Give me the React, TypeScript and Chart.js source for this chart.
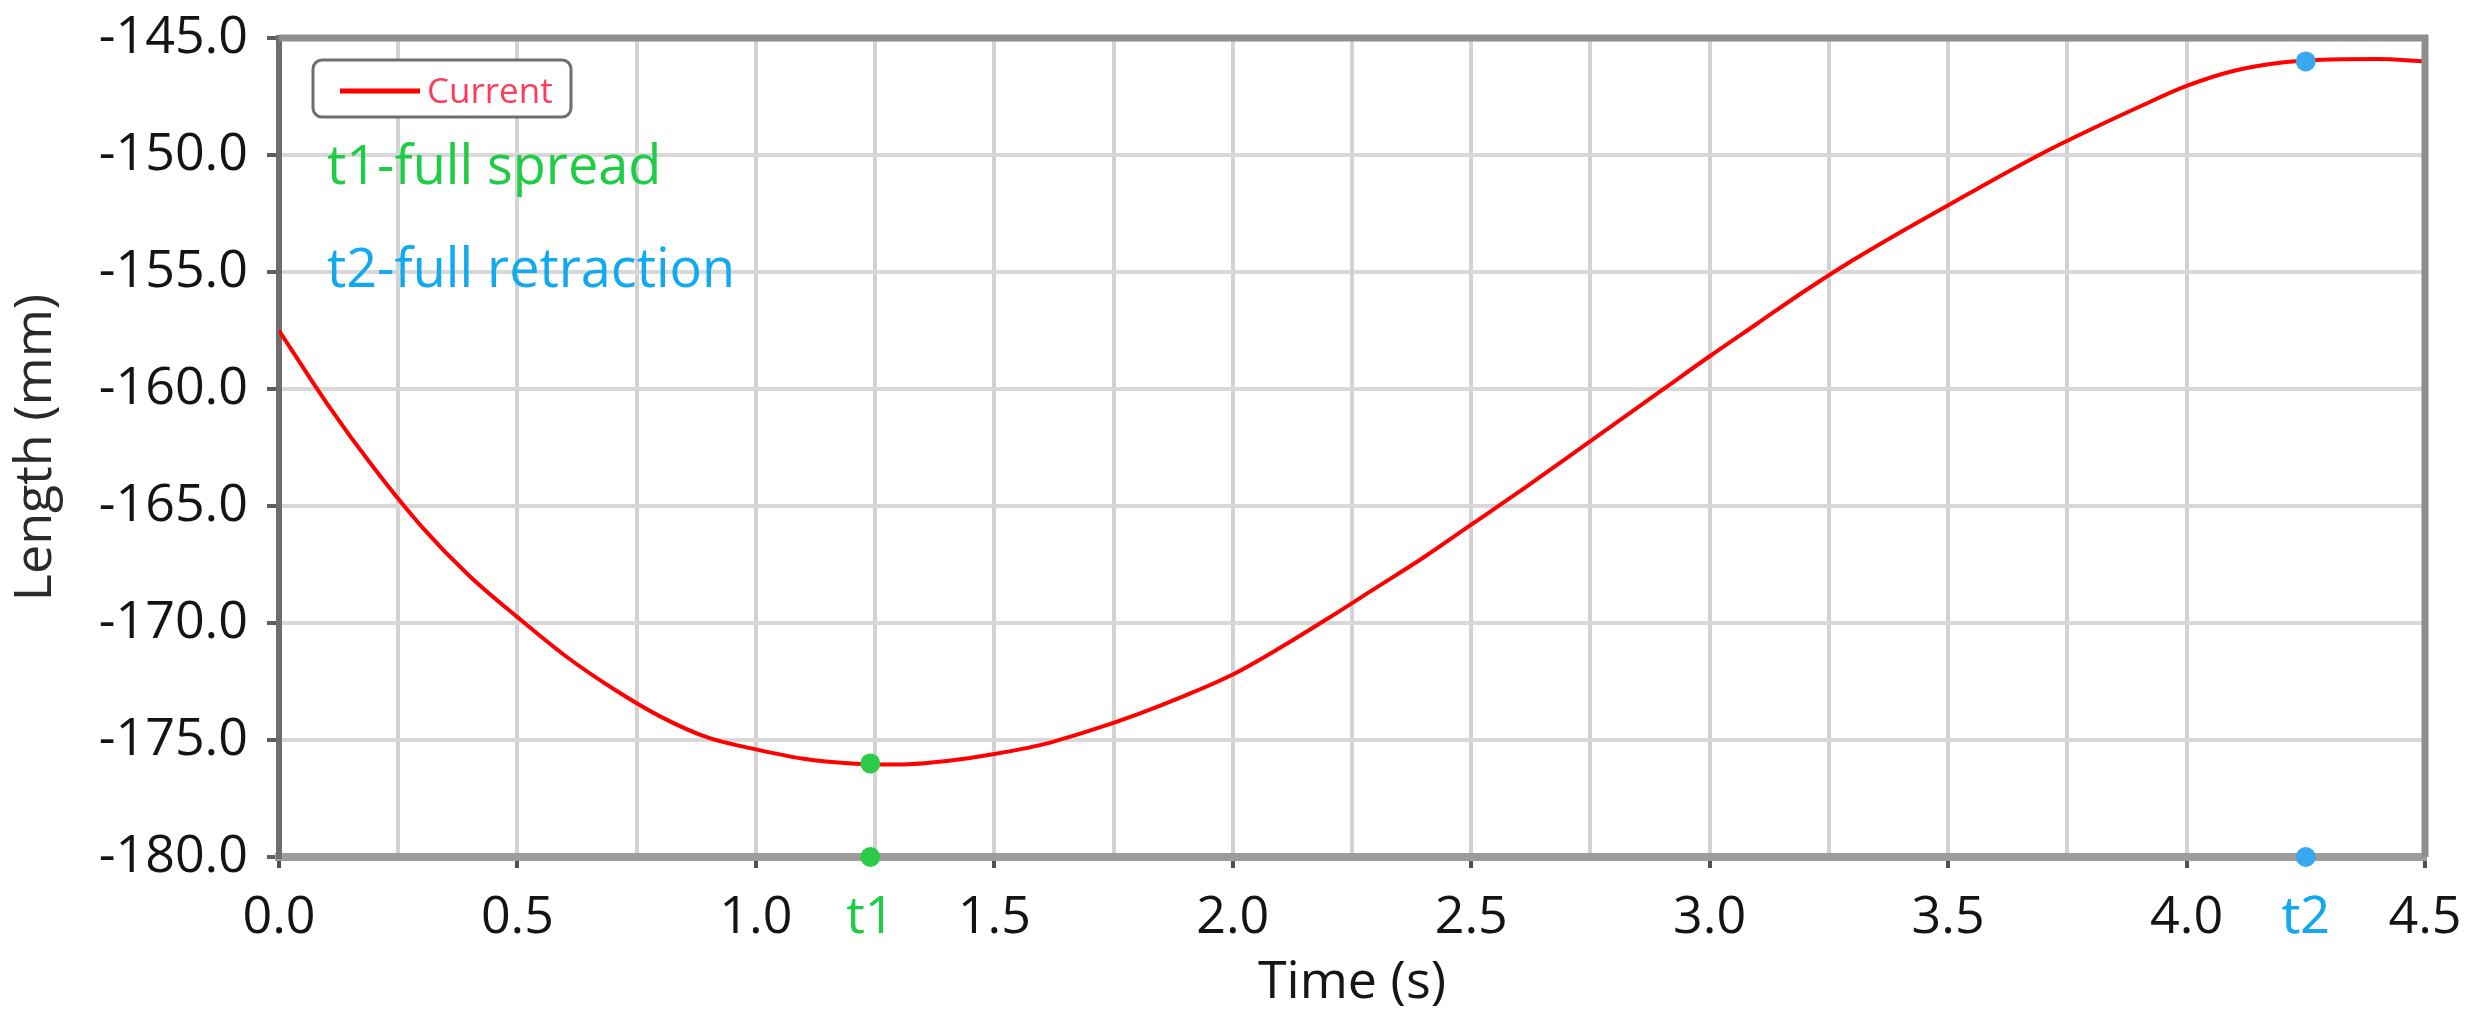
import React, { useEffect, useRef } from 'react';
import { Chart, registerables } from 'chart.js';

Chart.register(...registerables);

// ---- data ----
const TIME_S = [
  0.0, 0.1, 0.2, 0.3, 0.4, 0.5, 0.6, 0.7, 0.8, 0.9,
  1.0, 1.1, 1.2, 1.3, 1.4, 1.5, 1.6, 1.7, 1.8, 1.9,
  2.0, 2.1, 2.2, 2.3, 2.4, 2.5, 2.6, 2.7, 2.8, 2.9,
  3.0, 3.1, 3.2, 3.3, 3.4, 3.5, 3.6, 3.7, 3.8, 3.9,
  4.0, 4.1, 4.2, 4.3, 4.4, 4.5,
];
const LENGTH_MM = [
  -157.5, -160.6, -163.4, -165.9, -168.0, -169.75, -171.4, -172.8, -174.0, -174.9,
  -175.4, -175.8, -176.0, -176.05, -175.9, -175.6, -175.2, -174.6, -173.9, -173.1,
  -172.2, -171.05, -169.8, -168.5, -167.2, -165.8, -164.4, -162.95, -161.5, -160.05,
  -158.6, -157.2, -155.8, -154.5, -153.3, -152.15, -151.0, -149.9, -148.9, -147.95,
  -147.05, -146.4, -146.05, -145.92, -145.9, -146.0,
];
const SERIES_LABEL = 'Current';

const T1_TIME = 1.24;
const T1_LENGTH = -176.0;
const T2_TIME = 4.25;
const T2_LENGTH = -146.0;
const T1_TICK_LABEL = 't1';
const T2_TICK_LABEL = 't2';
const T1_NOTE = 't1-full spread';
const T2_NOTE = 't2-full retraction';

const X_TICKS = [
  0, 0.25, 0.5, 0.75, 1.0, 1.25, 1.5, 1.75, 2.0, 2.25,
  2.5, 2.75, 3.0, 3.25, 3.5, 3.75, 4.0, 4.25, 4.5,
];
const Y_MIN = -180;
const Y_MAX = -145;
const Y_STEP = 2.5;
const X_TITLE = 'Time (s)';
const Y_TITLE = 'Length (mm)';

// ---- styling ----
const RED = '#ff0000';
const GREEN = '#2ccc48';
const GREEN_TEXT = '#1fcc46';
const BLUE = '#38a8f0';
const BLUE_TEXT = '#12a9ee';
const FONT = "'Open Sans', sans-serif";

const isHalf = (v: number) => Math.abs(v * 2 - Math.round(v * 2)) < 1e-9;
const isT1 = (v: number) => Math.abs(v - T1_TIME) < 1e-9;
const isT2 = (v: number) => Math.abs(v - T2_TIME) < 1e-9;

const overlayPlugin = {
  id: 'overlay',
  afterDraw(chart: any) {
    const { ctx, chartArea: a } = chart;
    ctx.save();
    // top and right frame
    ctx.strokeStyle = '#8e8e8e';
    ctx.lineWidth = 7;
    ctx.beginPath();
    ctx.moveTo(a.left, a.top);
    ctx.lineTo(a.right, a.top);
    ctx.lineTo(a.right, a.bottom);
    ctx.stroke();

    // legend box
    const ds = chart.data.datasets[2];
    const bx = a.left + 34;
    const by = a.top + 22;
    ctx.fillStyle = '#ffffff';
    ctx.strokeStyle = '#6e6e6e';
    ctx.lineWidth = 3;
    ctx.beginPath();
    (ctx as any).roundRect(bx, by, 258, 57, 9);
    ctx.fill();
    ctx.stroke();
    ctx.strokeStyle = ds.borderColor;
    ctx.lineWidth = 5;
    ctx.beginPath();
    ctx.moveTo(a.left + 61, a.top + 53);
    ctx.lineTo(a.left + 141, a.top + 53);
    ctx.stroke();
    ctx.fillStyle = '#ff3b5c';
    ctx.font = `35px ${FONT}`;
    ctx.textAlign = 'left';
    ctx.textBaseline = 'alphabetic';
    ctx.fillText(ds.label, a.left + 148, a.top + 65);

    // notes
    ctx.font = `54px ${FONT}`;
    ctx.fillStyle = GREEN_TEXT;
    ctx.fillText(T1_NOTE, a.left + 48, a.top + 146);
    ctx.fillStyle = BLUE_TEXT;
    ctx.fillText(T2_NOTE, a.left + 48, a.top + 249);
    ctx.restore();
  },
};

export default function App() {
  const canvasRef = useRef<HTMLCanvasElement | null>(null);

  useEffect(() => {
    if (!canvasRef.current) return;
    Chart.defaults.font.family = FONT;
    const lineData = TIME_S.map((t, i) => ({ x: t, y: LENGTH_MM[i] }));

    const chart = new Chart(canvasRef.current, {
      type: 'line',
      data: {
        datasets: [
          {
            label: 't1',
            data: [
              { x: T1_TIME, y: T1_LENGTH },
              { x: T1_TIME, y: Y_MIN },
            ],
            showLine: false,
            pointRadius: 10,
            pointBackgroundColor: GREEN,
            pointBorderWidth: 0,
            clip: false,
            order: 1,
          } as any,
          {
            label: 't2',
            data: [
              { x: T2_TIME, y: T2_LENGTH },
              { x: T2_TIME, y: Y_MIN },
            ],
            showLine: false,
            pointRadius: 10,
            pointBackgroundColor: BLUE,
            pointBorderWidth: 0,
            clip: false,
            order: 1,
          } as any,
          {
            label: SERIES_LABEL,
            data: lineData,
            borderColor: RED,
            borderWidth: 4,
            pointRadius: 0,
            tension: 0.4,
            cubicInterpolationMode: 'monotone',
            fill: false,
            order: 2,
          } as any,
        ],
      },
      options: {
        animation: false,
        responsive: false,
        maintainAspectRatio: false,
        layout: { padding: { left: 0, top: 38, right: 40, bottom: 0 } },
        plugins: {
          legend: { display: false },
          tooltip: { enabled: false },
        },
        scales: {
          x: {
            type: 'linear',
            min: 0,
            max: 4.5,
            afterBuildTicks: (s: any) => {
              s.ticks = X_TICKS.concat([T1_TIME, T2_TIME])
                .sort((p, q) => p - q)
                .map((v) => ({ value: v }));
            },
            afterFit: (s: any) => {
              s.height = 168;
              s.paddingLeft = 0;
              s.paddingRight = 0;
              s.paddingTop = 0;
              s.paddingBottom = 0;
            },
            ticks: {
              autoSkip: false,
              maxRotation: 0,
              minRotation: 0,
              padding: 19,
              font: { size: 52 },
              color: (c: any) => {
                const v = c.tick?.value;
                if (isT1(v)) return GREEN_TEXT;
                if (isT2(v)) return BLUE_TEXT;
                return '#141414';
              },
              callback: (v: any) => {
                const n = Number(v);
                if (isT1(n)) return T1_TICK_LABEL;
                if (isT2(n)) return T2_TICK_LABEL;
                return isHalf(n) ? n.toFixed(1) : '';
              },
            },
            grid: {
              color: (c: any) => {
                const v = c.tick?.value;
                return isT1(v) || isT2(v) ? 'rgba(0,0,0,0)' : '#d2d2d2';
              },
              lineWidth: 4,
              drawTicks: true,
              tickLength: 11,
              tickWidth: 4,
              tickColor: (c: any) => {
                const v = c.tick?.value;
                if (isT1(v) || isT2(v)) return 'rgba(0,0,0,0)';
                return isHalf(v) ? '#505050' : 'rgba(0,0,0,0)';
              },
            },
            border: { color: '#9c9c9c', width: 8 },
            title: {
              display: true,
              text: X_TITLE,
              color: '#161616',
              font: { size: 52 },
              padding: { top: 0, bottom: 11 },
            },
          },
          y: {
            min: Y_MIN,
            max: Y_MAX,
            afterFit: (s: any) => {
              s.width = 279;
              s.paddingLeft = 0;
              s.paddingRight = 0;
              s.paddingTop = 0;
              s.paddingBottom = 0;
            },
            ticks: {
              stepSize: Y_STEP,
              padding: 19,
              font: { size: 52 },
              color: '#141414',
              callback: (v: any) => {
                const n = Number(v);
                return Math.abs(n / 5 - Math.round(n / 5)) < 1e-9 ? n.toFixed(1) : '';
              },
            },
            grid: {
              color: '#d8d8d8',
              lineWidth: 4,
              drawTicks: true,
              tickLength: 12,
              tickWidth: 4,
              tickColor: '#5e5e5e',
            },
            border: { color: '#6e6e6e', width: 6 },
            title: {
              display: true,
              text: Y_TITLE,
              color: '#2a2a2a',
              font: { size: 52 },
              padding: { top: 5, bottom: 0 },
            },
          },
        },
      },
      plugins: [overlayPlugin],
    } as any);

    return () => chart.destroy();
  }, []);

  return (
    <div
      style={{
        position: 'fixed',
        left: 0,
        top: 0,
        width: 2465,
        height: 1025,
        background: '#ffffff',
      }}
    >
      <canvas ref={canvasRef} width={2465} height={1025} style={{ display: 'block' }} />
    </div>
  );
}
